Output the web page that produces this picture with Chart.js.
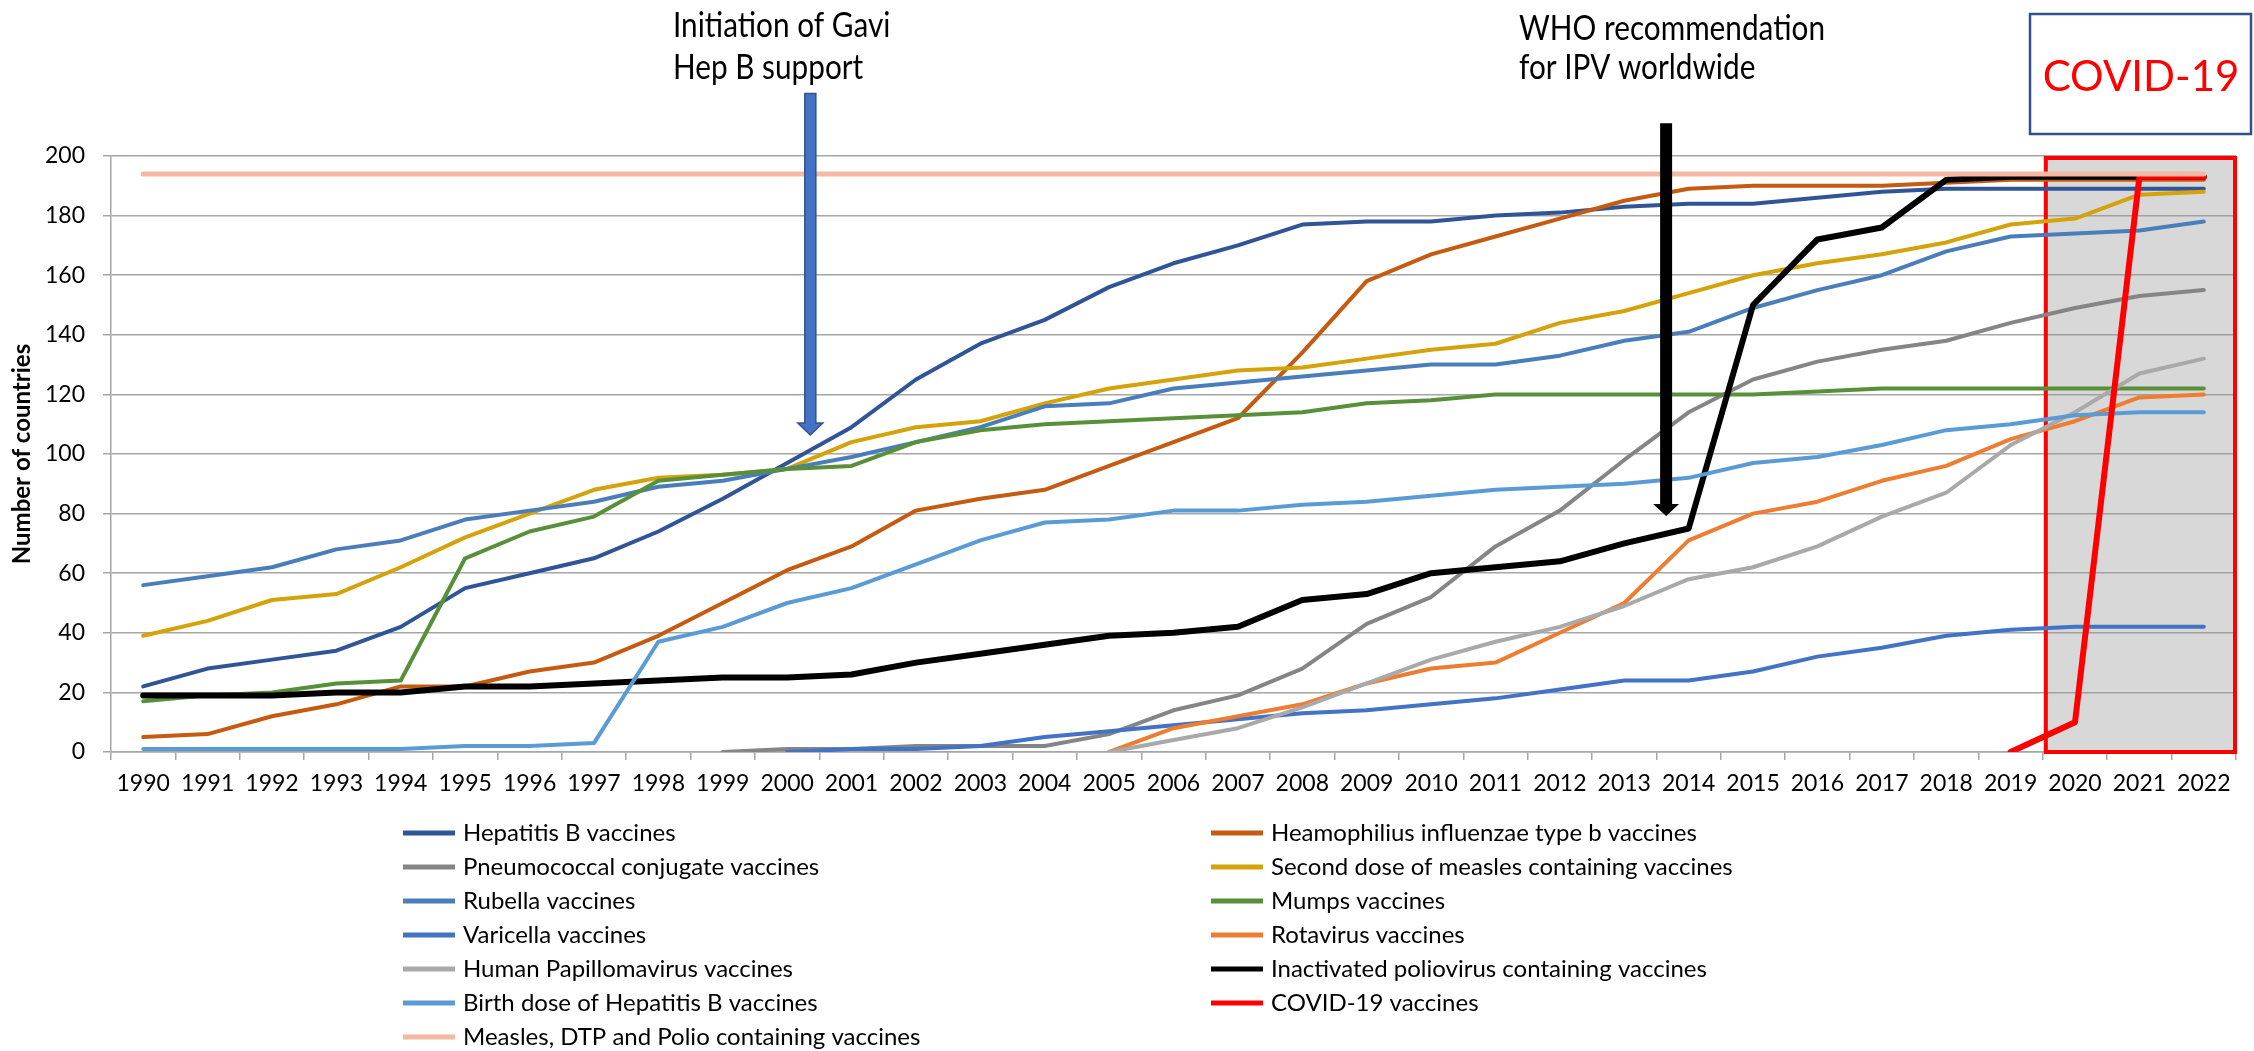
<!DOCTYPE html>
<html>
<head>
<meta charset="utf-8">
<script src="https://cdn.jsdelivr.net/npm/chart.js@4"></script>
<style>
  body { margin: 0; background: #fff; }
  #wrap { width: 2254px; height: 1051px; }
</style>
</head>
<body>
<div id="wrap"><canvas id="chart" width="2254" height="1051"></canvas></div>
<script>
var years = ["1990","1991","1992","1993","1994","1995","1996","1997","1998","1999","2000","2001","2002","2003","2004","2005","2006","2007","2008","2009","2010","2011","2012","2013","2014","2015","2016","2017","2018","2019","2020","2021","2022"];

var hepB      = [22,28,31,34,42,55,60,65,74,85,97,109,125,137,145,156,164,170,177,178,178,180,181,183,184,184,186,188,189,189,189,189,189];
var hib       = [5,6,12,16,22,22,27,30,39,50,61,69,81,85,88,96,104,112,134,158,167,173,179,185,189,190,190,190,191,192,192,192,192];
var pcv       = [null,null,null,null,null,null,null,null,null,0,1,1,2,2,2,6,14,19,28,43,52,69,81,98,114,125,131,135,138,144,149,153,155];
var mcv2      = [39,44,51,53,62,72,80,88,92,93,95,104,109,111,117,122,125,128,129,132,135,137,144,148,154,160,164,167,171,177,179,187,188];
var rubella   = [56,59,62,68,71,78,81,84,89,91,95,99,104,109,116,117,122,124,126,128,130,130,133,138,141,149,155,160,168,173,174,175,178];
var mumps     = [17,19,20,23,24,65,74,79,91,93,95,96,104,108,110,111,112,113,114,117,118,120,120,120,120,120,121,122,122,122,122,122,122];
var varicella = [null,null,null,null,null,null,null,null,null,null,0,1,1,2,5,7,9,11,13,14,16,18,21,24,24,27,32,35,39,41,42,42,42];
var rota      = [null,null,null,null,null,null,null,null,null,null,null,null,null,null,null,0,8,12,16,23,28,30,40,50,71,80,84,91,96,105,111,119,120];
var hpv       = [null,null,null,null,null,null,null,null,null,null,null,null,null,null,null,0,4,8,15,23,31,37,42,49,58,62,69,79,87,103,114,127,132];
var ipv       = [19,19,19,20,20,22,22,23,24,25,25,26,30,33,36,39,40,42,51,53,60,62,64,70,75,150,172,176,192,193,193,193,193];
var birthDose = [1,1,1,1,1,2,2,3,37,42,50,55,63,71,77,78,81,81,83,84,86,88,89,90,92,97,99,103,108,110,113,114,114];
var covid     = [null,null,null,null,null,null,null,null,null,null,null,null,null,null,null,null,null,null,null,null,null,null,null,null,null,null,null,null,null,0,10,193,193];
var measles   = [194,194,194,194,194,194,194,194,194,194,194,194,194,194,194,194,194,194,194,194,194,194,194,194,194,194,194,194,194,194,194,194,194];

var yTicks = [0,20,40,60,80,100,120,140,160,180,200];

var FONT = 'Lato';

function series(label, data, color, width) {
  return { label: label, data: data, borderColor: color, backgroundColor: color, borderWidth: width || 4 };
}

var datasets = [
  series("Hepatitis B vaccines", hepB, '#2F5597'),
  series("Heamophilius influenzae type b vaccines", hib, '#C55A11'),
  series("Pneumococcal conjugate vaccines", pcv, '#858585'),
  series("Second dose of measles containing vaccines", mcv2, '#D4A20A'),
  series("Rubella vaccines", rubella, '#4A7EBA'),
  series("Mumps vaccines", mumps, '#58903A'),
  series("Varicella vaccines", varicella, '#4472C4'),
  series("Rotavirus vaccines", rota, '#ED7D31'),
  series("Human Papillomavirus vaccines", hpv, '#A9A9A9'),
  series("Inactivated poliovirus containing vaccines", ipv, '#000000', 6),
  series("Birth dose of Hepatitis B vaccines", birthDose, '#5B9BD5'),
  series("COVID-19 vaccines", covid, '#FF0000', 6),
  series("Measles, DTP and Polio containing vaccines", measles, '#F5B8A2', 5)
];
// later series on top, like the original
datasets.forEach(function (d, i) { d.order = datasets.length - i; });

function arrow(ctx, cx, top, tip, shaftW, headW, headH, fill, stroke) {
  ctx.beginPath();
  ctx.moveTo(cx - shaftW / 2, top);
  ctx.lineTo(cx + shaftW / 2, top);
  ctx.lineTo(cx + shaftW / 2, tip - headH);
  ctx.lineTo(cx + headW / 2, tip - headH);
  ctx.lineTo(cx, tip);
  ctx.lineTo(cx - headW / 2, tip - headH);
  ctx.lineTo(cx - shaftW / 2, tip - headH);
  ctx.closePath();
  ctx.fillStyle = fill;
  ctx.fill();
  if (stroke) { ctx.strokeStyle = stroke; ctx.lineWidth = 1.5; ctx.stroke(); }
}

// narrow-ish text, the original uses a condensed office font
function note(ctx, text, x, y) {
  ctx.save();
  ctx.translate(x, y);
  ctx.scale(0.85, 1);
  ctx.fillText(text, 0, 0);
  ctx.restore();
}

var extras = {
  id: 'extras',
  beforeDatasetsDraw: function (chart) {
    var ctx = chart.ctx, x = chart.scales.x, y = chart.scales.y;
    var step = x.getPixelForValue(1) - x.getPixelForValue(0);
    var left = x.getPixelForValue(years.indexOf('2020')) - step / 2 + 3;
    var right = x.right - 1;
    var top = y.getPixelForValue(200) + 2;
    var bottom = y.bottom;
    ctx.save();
    ctx.fillStyle = 'rgba(150,150,150,0.37)';
    ctx.fillRect(left, top, right - left, bottom - top);
    ctx.strokeStyle = '#FF0000';
    ctx.lineWidth = 4;
    ctx.strokeRect(left, top, right - left, bottom - top);
    ctx.restore();
  },
  afterDraw: function (chart) {
    var ctx = chart.ctx, x = chart.scales.x, y = chart.scales.y;
    var step = x.getPixelForValue(1) - x.getPixelForValue(0);
    ctx.save();

    // arrows
    arrow(ctx, x.getPixelForValue(10) + 0.36 * step, y.getPixelForValue(221), y.getPixelForValue(106.4), 11, 25, 12, '#4472C4', '#2F528F');
    arrow(ctx, x.getPixelForValue(23) + 0.65 * step, y.getPixelForValue(211), y.getPixelForValue(79.2), 12, 26, 12, '#000000', null);

    // annotation texts
    ctx.fillStyle = '#000';
    ctx.textAlign = 'left';
    ctx.textBaseline = 'middle';
    ctx.font = '35px ' + FONT;
    note(ctx, 'Initiation of Gavi', 673, 26);
    note(ctx, 'Hep B support', 673, 68);
    note(ctx, 'WHO recommendation', 1519, 29);
    note(ctx, 'for IPV worldwide', 1519, 68);

    // COVID-19 box
    ctx.fillStyle = '#fff';
    ctx.fillRect(2030, 14, 221, 120);
    ctx.strokeStyle = '#2F528F';
    ctx.lineWidth = 2.5;
    ctx.strokeRect(2030, 14, 221, 120);
    ctx.fillStyle = '#FF0000';
    ctx.textAlign = 'center';
    ctx.font = '42px ' + FONT;
    ctx.fillText('COVID-19', 2141, 77);

    // legend, two columns
    ctx.textAlign = 'left';
    ctx.font = '24px ' + FONT;
    chart.data.datasets.forEach(function (d, k) {
      var col = k % 2, row = Math.floor(k / 2);
      var x0 = col ? 1211 : 403;
      var yy = 833 + row * 34;
      ctx.strokeStyle = d.borderColor;
      ctx.lineWidth = 5;
      ctx.beginPath();
      ctx.moveTo(x0, yy);
      ctx.lineTo(x0 + 52, yy);
      ctx.stroke();
      ctx.fillStyle = '#000';
      ctx.fillText(d.label, x0 + 60, yy);
    });
    ctx.restore();
  }
};

new Chart(document.getElementById('chart'), {
  type: 'line',
  data: { labels: years, datasets: datasets },
  options: {
    responsive: false,
    animation: false,
    devicePixelRatio: 1,
    layout: { padding: { top: 156, right: 18, bottom: 240, left: 0 } },
    plugins: { legend: { display: false }, tooltip: { enabled: false } },
    elements: { point: { radius: 0 }, line: { tension: 0, borderCapStyle: 'round', borderJoinStyle: 'round' } },
    scales: {
      x: {
        offset: true,
        grid: { offset: true, drawOnChartArea: false, drawTicks: true, tickLength: 8, color: '#a6a6a6', lineWidth: 1.5 },
        border: { color: '#a6a6a6', width: 1.5 },
        ticks: { color: '#000', font: { family: FONT, size: 23 }, padding: 10, maxRotation: 0, autoSkip: false },
        afterFit: function (s) { s.height = 59; }
      },
      y: {
        min: 0, max: 200,
        afterBuildTicks: function (s) { s.ticks = yTicks.map(function (v) { return { value: v }; }); },
        grid: { color: '#a6a6a6', lineWidth: 1.5, tickLength: 8 },
        border: { color: '#a6a6a6', width: 1.5 },
        ticks: { color: '#000', font: { family: FONT, size: 23 }, padding: 18 },
        title: { display: true, text: 'Number of countries', color: '#000', font: { family: FONT, size: 24, weight: 'bold' }, padding: { top: 8, bottom: 0 } },
        afterFit: function (s) { s.width = 111; }
      }
    }
  },
  plugins: [extras]
});
</script>
</body>
</html>
